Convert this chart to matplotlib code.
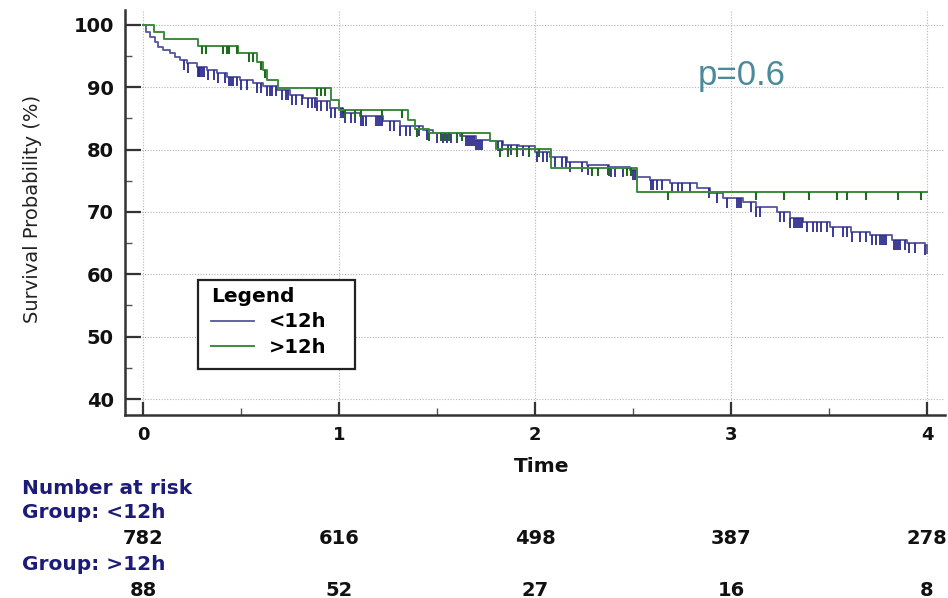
import numpy as np
import matplotlib
matplotlib.use("Agg")
import matplotlib.pyplot as plt
from matplotlib.transforms import blended_transform_factory
from matplotlib.lines import Line2D
from matplotlib.patches import Rectangle

plt.rcParams['font.family'] = ['DejaVu Sans']

# ---------------- data ----------------
blue_t = [0, 0.017, 0.034, 0.06, 0.078, 0.104, 0.138, 0.163, 0.189, 0.223, 0.274,
          0.325, 0.376, 0.427, 0.495, 0.561, 0.614, 0.682, 0.75, 0.818, 0.886,
          0.954, 1.022, 1.107, 1.224, 1.31, 1.43, 1.48, 1.617, 1.70, 1.77, 1.837,
          1.92, 2.0, 2.077, 2.163, 2.265, 2.38, 2.485, 2.52, 2.587, 2.69, 2.827,
          2.893, 2.96, 3.06, 3.13, 3.235, 3.30, 3.367, 3.505, 3.61, 3.71, 3.82,
          3.898, 3.99]
blue_s = [100, 98.8, 98.1, 97.3, 96.5, 95.9, 95.4, 94.9, 94.3, 93.8, 93.3,
          92.7, 92.2, 91.7, 91.1, 90.6, 90.1, 89.5, 88.7, 88.2, 87.7,
          86.6, 85.9, 85.3, 84.5, 83.8, 83.2, 82.6, 82.2, 81.5, 81.3, 80.7,
          80.5, 79.6, 78.8, 78.0, 77.5, 77.2, 76.7, 75.6, 75.1, 74.6, 73.8,
          73.0, 72.2, 71.6, 70.8, 70.0, 69.0, 68.4, 67.6, 66.8, 66.3, 65.5,
          65.0, 64.7]
blue_cens = [0.21, 0.23, 0.28, 0.285, 0.29, 0.30, 0.31, 0.33, 0.36, 0.38, 0.42,
             0.44, 0.45, 0.46, 0.48, 0.50, 0.53, 0.58, 0.60, 0.63, 0.65, 0.66,
             0.68, 0.71, 0.73, 0.74, 0.76, 0.78, 0.81, 0.84, 0.86, 0.88, 0.89,
             0.91, 0.94, 0.96, 0.98, 1.01, 1.02, 1.03, 1.06, 1.08, 1.11, 1.12,
             1.14, 1.19, 1.20, 1.21, 1.22, 1.26, 1.28, 1.31, 1.34, 1.36, 1.41,
             1.45, 1.50, 1.53, 1.55, 1.57, 1.60, 1.65, 1.66, 1.67, 1.68, 1.69,
             1.70, 1.71, 1.72, 1.73, 1.81, 1.83, 1.86, 1.88, 1.91, 1.94, 1.97,
             2.01, 2.04, 2.06, 2.10, 2.14, 2.16, 2.18, 2.24, 2.27, 2.37, 2.39,
             2.41, 2.45, 2.50, 2.51, 2.59, 2.60, 2.62, 2.65, 2.70, 2.73, 2.75,
             2.79, 2.89, 2.93, 2.98, 3.03, 3.04, 3.05, 3.10, 3.13, 3.15, 3.25,
             3.27, 3.30, 3.32, 3.33, 3.34, 3.35, 3.36, 3.39, 3.42, 3.44, 3.46,
             3.49, 3.52, 3.57, 3.59, 3.62, 3.66, 3.69, 3.72, 3.74, 3.76, 3.77,
             3.78, 3.79, 3.83, 3.84, 3.85, 3.86, 3.89, 3.91, 3.94, 3.99]

green_t = [0, 0.056, 0.107, 0.28, 0.485, 0.58, 0.61, 0.63, 0.69, 0.96, 1.0,
           1.35, 1.39, 1.46, 1.77, 1.80, 2.08, 2.52, 4.0]
green_s = [100, 98.8, 97.7, 96.6, 95.4, 94.1, 92.7, 91.1, 89.8, 88.0, 86.4,
           84.8, 83.3, 82.6, 81.3, 80.1, 77.1, 73.2, 73.2]
green_cens = [0.30, 0.32, 0.41, 0.43, 0.44, 0.48, 0.54, 0.56, 0.60, 0.62,
              0.89, 0.91, 0.93, 1.03, 1.08, 1.11, 1.22, 1.32, 1.40, 1.46,
              1.52, 1.54, 1.56, 1.60, 1.63, 1.82, 1.86, 1.91, 1.97, 2.02,
              2.29, 2.32, 2.38, 2.47, 2.49, 2.68, 3.13, 3.27, 3.40, 3.54,
              3.59, 3.69, 3.85, 3.97]

groups = ['<12h', '>12h']
risk_times = [0, 1, 2, 3, 4]
risk_lt12 = [782, 616, 498, 387, 278]
risk_gt12 = [88, 52, 27, 16, 8]
p_text = 'p=0.6'

# ---------------- styling ----------------
BLUE = '#55559f'
BLUE_C = '#2b2b8c'
GREEN = '#3d8b3d'
GREEN_C = '#1f6b1f'
NAVY = '#1c1c78'

W, H = 948, 598
AX_L, AX_R, AX_T, AX_B = 125, 945, 10, 415
fig = plt.figure(figsize=(W / 100, H / 100), dpi=100)
ax = fig.add_axes([AX_L / W, 1 - AX_B / H, (AX_R - AX_L) / W, (AX_B - AX_T) / H])


def ax_x(px):
    return (px - AX_L) / (AX_R - AX_L)


def ax_y(py):
    return (AX_B - py) / (AX_B - AX_T)


ax.set_xlim(-0.092, 4.092)
ax.set_ylim(37.45, 102.36)


def step_val(ts, ss, x):
    i = np.searchsorted(np.asarray(ts), np.asarray(x), side='right') - 1
    return np.asarray(ss)[np.clip(i, 0, len(ss) - 1)]


# curves
bt = list(blue_t) + [4.0]
bs = list(blue_s) + [blue_s[-1]]
ax.step(bt, bs, where='post', color=BLUE, lw=1.3, zorder=3)
ax.step(green_t, green_s, where='post', color=GREEN, lw=1.4, zorder=4)

# censor marks (hang downward from the curve)
bc = np.array(blue_cens)
bv = step_val(blue_t, blue_s, bc)
ax.vlines(bc, bv - 1.6, bv, color=BLUE_C, lw=1.3, zorder=3)
gc = np.array(green_cens)
gv = step_val(green_t, green_s, gc)
ax.vlines(gc, gv - 1.3, gv, color=GREEN_C, lw=1.5, zorder=4)
end_v = step_val(bt, bs, 3.999)
ax.vlines([4.0], [end_v - 1.5], [end_v], color=BLUE, lw=1.3, zorder=3)

# axes styling
for s in ['top', 'right']:
    ax.spines[s].set_visible(False)
for s in ['left', 'bottom']:
    ax.spines[s].set_color('#333333')
    ax.spines[s].set_linewidth(1.8)

ax.set_xticks([0, 1, 2, 3, 4])
ax.set_xticks([0.5, 1.5, 2.5, 3.5], minor=True)
ax.set_yticks([40, 50, 60, 70, 80, 90, 100])
ax.set_yticks([45, 55, 65, 75, 85, 95], minor=True)
ax.tick_params(axis='x', which='major', direction='in', length=9.5, width=1.6,
               color='#333333', pad=8, labelsize=13)
ax.tick_params(axis='x', which='minor', direction='in', length=5, width=1.0, color='#555555')
ax.tick_params(axis='y', which='major', direction='in', length=11.5, width=1.6,
               color='#333333', pad=8, labelsize=14)
ax.tick_params(axis='y', which='minor', direction='in', length=5, width=1.0, color='#555555')
for lab in ax.get_xticklabels() + ax.get_yticklabels():
    lab.set_fontweight('bold')
    lab.set_color('#111111')

ax.grid(True, which='major', linestyle=(0, (1, 1.5)), color='#b5b5b5', lw=0.8, zorder=0)
ax.set_axisbelow(True)

# legend (frame drawn as a separate rectangle for the wide box of the original)
ax.add_patch(Rectangle((ax_x(198), ax_y(369)), ax_x(355) - ax_x(198), ax_y(280) - ax_y(369),
                       transform=ax.transAxes, facecolor='white', edgecolor='#222222',
                       lw=1.6, zorder=5))
handles = [Line2D([], [], color=BLUE, lw=1.3), Line2D([], [], color=GREEN, lw=1.4)]
leg = ax.legend(handles, groups, loc='upper left', bbox_to_anchor=(ax_x(211), ax_y(287)),
                borderaxespad=0, title='Legend', alignment='left', frameon=False,
                handlelength=2.2, prop={'weight': 'bold', 'size': 14}, labelspacing=0.33,
                borderpad=0, handletextpad=0.8)
leg.set_zorder(6)
leg.get_title().set_fontweight('bold')
leg.get_title().set_fontsize(14.5)

# p value
fig.text(742 / W, 1 - 76 / H, p_text, ha='center', va='center', fontsize=25,
         color='#4b8a9a', family=['Liberation Sans', 'DejaVu Sans'])

# axis labels
fig.text(33 / W, 1 - 209 / H, 'Survival Probability (%)', rotation=90, ha='center',
         va='center', fontsize=14, color='#222222')
fig.text(542 / W, 1 - 466 / H, 'Time', ha='center', va='center', fontsize=14.5,
         fontweight='bold', color='#111111')

# number at risk table
fig.text(22 / W, 1 - 488 / H, 'Number at risk', ha='left', va='center', fontsize=14.5,
         fontweight='bold', color=NAVY)
fig.text(22 / W, 1 - 513 / H, 'Group: ' + groups[0], ha='left', va='center', fontsize=14.5,
         fontweight='bold', color=NAVY)
fig.text(22 / W, 1 - 565 / H, 'Group: ' + groups[1], ha='left', va='center', fontsize=14.5,
         fontweight='bold', color=NAVY)
tr = blended_transform_factory(ax.transData, fig.transFigure)
for t, n in zip(risk_times, risk_lt12):
    ax.text(t, 1 - 538 / H, str(n), transform=tr, ha='center', va='center', fontsize=14,
            fontweight='bold', color='#111111', clip_on=False)
for t, n in zip(risk_times, risk_gt12):
    ax.text(t, 1 - 590 / H, str(n), transform=tr, ha='center', va='center', fontsize=14,
            fontweight='bold', color='#111111', clip_on=False)

fig.savefig('out.png', dpi=100)
